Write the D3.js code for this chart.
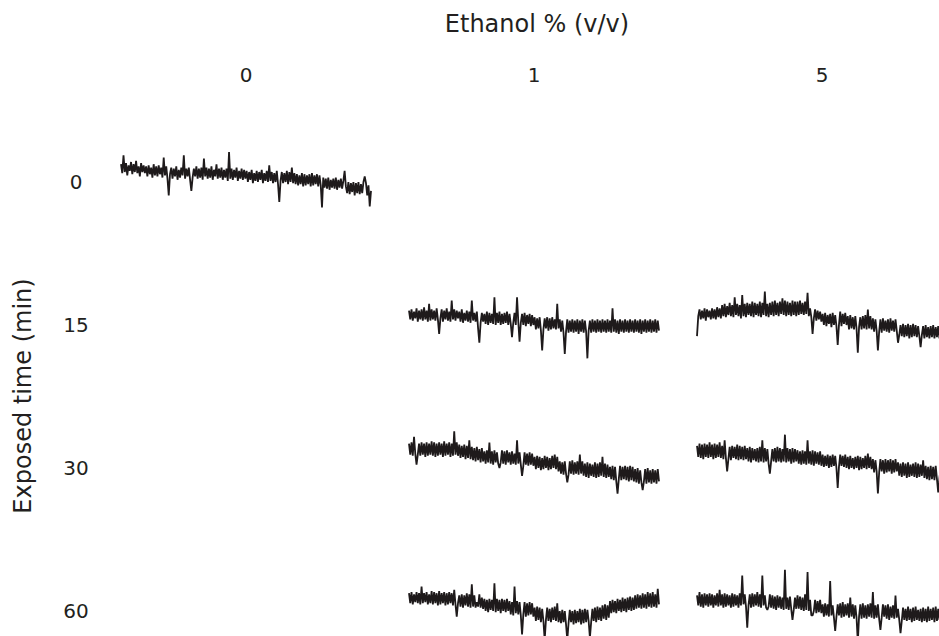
<!DOCTYPE html>
<html><head><meta charset="utf-8">
<script src="https://cdn.jsdelivr.net/npm/d3@7"></script>
<style>body{margin:0;background:#fff}svg{display:block}</style>
</head><body>
<svg id="c" width="939" height="636"></svg>
<script>
// Categories
const ethanolLevels = ["0", "1", "5"];
const exposedTimes = ["0", "15", "30", "60"];

// Trace values (signal amplitude, arbitrary units)
const trace_e0_t0 = [
  16,8,24,9,17,6,15,10,18,7,16,9,19,8,14,5,17,9,15,8,
  14,5,15,7,13,4,16,6,14,5,15,7,13,4,22,6,14,3,-12,7,
  13,3,12,5,14,2,11,4,13,6,24,3,12,5,13,2,-8,4,12,5,
  14,3,12,4,13,2,21,5,13,3,12,4,14,2,11,5,16,3,12,4,
  13,2,11,4,12,1,27,3,12,2,11,4,13,1,10,3,12,2,11,3,
  10,0,9,2,11,-1,8,1,10,0,9,2,11,-1,8,1,10,0,15,1,
  9,-1,8,0,10,-2,-18,1,9,-1,8,0,10,-2,9,0,13,-1,8,-2,
  7,-3,6,-2,8,-4,7,-3,6,-2,7,-4,8,-3,6,-2,7,-4,6,-3,
  -23,4,-5,3,-6,4,-7,2,-5,3,-6,4,-7,2,-5,3,-6,1,10,-4,
  -10,0,-11,-1,-9,0,-12,-1,-10,0,-11,-2,-10,0,5,-1,-12,-3,-22,-8];
const trace_e1_t15 = [
  13,5,14,4,12,6,15,3,13,5,14,4,16,5,13,3,19,4,14,5,
  13,4,15,5,-8,6,14,3,13,5,15,4,12,3,22,5,14,4,13,6,
  12,3,14,2,11,4,13,3,12,2,22,4,11,3,12,-3,-16,2,11,3,
  10,1,12,0,11,2,10,1,25,0,11,2,12,0,10,1,11,2,12,0,
  10,1,-11,2,11,0,25,3,-15,2,10,0,11,-1,9,1,10,-1,9,0,
  7,-4,6,-3,7,-5,-23,-4,6,-3,7,-5,6,-4,7,-3,5,-4,19,-3,
  5,-6,4,-7,-26,-6,5,-7,4,-6,5,-7,4,-6,5,-8,4,-6,5,-7,
  4,-6,-30,-5,4,-7,5,-6,4,-7,5,-6,4,-7,5,-6,4,-7,5,-6,
  4,-7,15,-6,5,-7,4,-8,5,-6,4,-7,5,-6,4,-7,5,-6,4,-7,
  5,-6,4,-7,5,-8,4,-6,5,-7,4,-6,5,-7,4,-6,5,-7,4,-5];
const trace_e5_t15 = [
  -10,8,14,5,13,6,15,4,14,7,13,5,15,6,14,5,16,7,15,6,
  18,8,19,7,17,9,20,8,18,7,25,9,19,8,18,6,27,8,19,7,
  20,9,19,8,21,7,20,9,19,8,21,7,20,9,30,8,19,7,20,9,
  21,8,22,9,20,8,21,10,24,9,22,8,21,9,20,8,22,9,21,8,
  21,9,22,10,20,9,21,10,29,8,15,7,-8,6,14,4,13,5,12,3,
  10,0,11,-1,9,1,10,-2,11,0,9,-1,-18,0,12,-1,10,1,11,0,
  8,-4,9,-3,7,-4,8,-3,-25,-2,7,-4,8,-3,9,-4,14,-3,8,-4,
  6,-6,5,-5,-23,-6,5,-7,6,-5,4,-6,5,-7,6,-5,4,-6,5,-5,
  -16,-9,0,-10,1,-11,0,-10,1,-12,0,-11,1,-10,0,-11,-1,-10,-20,-9,
  -1,-12,0,-11,-2,-12,-1,-11,0,-12,-2,-11,-1,-12,0,-11,-2,-12,-3,-10];
const trace_e1_t30 = [
  22,12,23,11,28,13,3,12,22,11,23,12,22,10,23,11,22,12,24,11,
  23,10,22,11,23,12,22,10,24,11,22,12,23,10,22,11,33,12,23,11,
  21,9,20,10,21,8,20,9,25,8,19,7,18,6,19,7,17,5,18,6,
  15,4,16,5,23,4,15,3,16,5,14,4,0,5,16,4,15,3,16,5,
  14,3,15,4,13,3,25,4,14,3,-7,2,14,3,13,2,14,3,13,2,
  10,-1,11,0,10,-2,9,-1,11,0,10,-2,9,-1,11,0,12,-1,10,-3,
  6,-5,5,-6,6,-5,-13,-6,6,-5,7,-6,5,-5,6,-6,12,-5,6,-7,
  4,-8,5,-9,4,-7,3,-8,5,-9,4,-8,5,-7,10,-8,4,-9,3,-8,
  1,-10,2,-11,1,-12,-23,-10,2,-11,1,-10,2,-11,1,-12,2,-11,1,-12,
  -1,-13,0,-14,-2,-13,-20,-12,-1,-14,0,-13,-2,-14,-1,-13,-2,-14,-1,-12];
const trace_e5_t30 = [
  20,10,22,9,21,8,22,10,21,9,23,10,21,8,22,9,21,10,23,9,
  20,8,25,9,-3,8,19,7,20,9,19,8,21,7,20,8,19,7,20,8,
  18,6,19,5,18,7,17,6,18,5,19,6,25,5,18,6,17,4,-5,6,
  17,6,18,5,19,6,18,5,17,6,30,5,18,6,17,4,18,5,17,6,
  16,4,15,3,16,4,15,3,25,4,15,3,16,2,15,4,14,3,15,2,
  12,1,11,2,12,0,11,1,12,2,11,0,-18,1,12,2,11,1,12,0,
  10,-1,11,0,9,-1,10,0,11,-2,10,-1,9,0,11,-1,13,0,10,-1,
  8,-4,7,-3,-23,-4,8,-3,7,-5,8,-4,7,-3,8,-5,7,-4,8,-3,
  5,-7,4,-8,5,-7,4,-9,5,-8,3,-7,4,-8,5,-9,4,-8,3,-7,
  7,-9,2,-10,1,-11,2,-10,1,-11,2,-10,-22,-9,0,-12,-1,-11,-2,-10];
const trace_e1_t60 = [
  16,7,17,6,15,8,17,7,16,6,22,7,16,8,17,6,15,7,18,6,
  17,7,16,5,18,6,16,7,17,5,16,6,17,7,16,5,19,6,-5,7,
  14,4,15,3,14,5,16,4,15,3,24,4,14,3,8,4,15,3,12,2,
  11,0,10,-1,11,1,10,0,25,-1,11,0,10,-2,11,0,10,-1,11,0,
  9,-3,8,-4,22,-2,9,-3,8,-4,-21,-3,8,-5,7,-4,8,-3,7,-5,
  3,-9,4,-8,3,-10,2,-9,-26,-8,3,-9,2,-10,3,-8,4,-9,7,-10,
  0,-11,1,-10,0,-12,-26,-11,1,-10,0,-12,1,-11,0,-10,2,-12,1,-11,
  2,-10,1,-9,-24,-10,2,-9,3,-10,4,-8,3,-9,5,-7,6,-8,5,-6,
  9,-2,10,-1,9,-2,11,0,10,-1,12,0,11,-1,12,1,13,0,12,1,
  14,2,15,3,14,2,16,3,15,2,17,4,16,3,17,4,15,3,20,6];
const trace_e5_t60 = [
  14,5,17,4,15,3,16,5,15,4,16,5,15,3,14,5,16,4,19,5,
  15,3,16,4,15,5,14,3,16,4,15,5,14,3,16,5,32,6,15,4,
  -15,5,15,3,16,4,15,5,17,4,15,3,32,5,14,3,1,4,15,3,
  14,2,13,1,14,3,13,2,12,1,37,2,12,1,13,2,-8,1,12,2,
  14,2,13,1,12,0,15,1,35,0,10,-4,-4,0,10,-2,9,-1,10,-2,
  6,-5,7,-4,6,-5,27,-4,5,-6,-18,-5,6,-4,7,-6,8,-5,6,-4,
  7,-6,12,-5,6,-7,5,-6,-28,-5,6,-7,7,-6,5,-7,6,-5,7,-6,
  17,-7,5,-6,6,-7,-17,-6,6,-5,5,-7,6,-8,4,-6,5,-7,14,-6,
  2,-8,-20,-9,3,-8,2,-9,4,-8,2,-10,3,-9,4,-8,1,-9,2,-10,
  3,-9,2,-10,4,-9,2,-8,3,-10,4,-9,2,-8,3,-9,1,-8,-1,-7];

const traces = [
  {ethanol: "0", time: "0", values: trace_e0_t0},
  {ethanol: "1", time: "15", values: trace_e1_t15},
  {ethanol: "5", time: "15", values: trace_e5_t15},
  {ethanol: "1", time: "30", values: trace_e1_t30},
  {ethanol: "5", time: "30", values: trace_e5_t30},
  {ethanol: "1", time: "60", values: trace_e1_t60},
  {ethanol: "5", time: "60", values: trace_e5_t60}
];

const svg = d3.select("#c");
const font = "DejaVu Sans, Verdana, sans-serif";
const textColor = "#231f20";

const col = d3.scalePoint().domain(ethanolLevels).range([246, 822]);
const row = d3.scalePoint().domain(exposedTimes).range([182, 611]);
const traceW = 250;
const amp = d3.scaleLinear().domain([-36, 36]).range([40, -40]);

// Titles
svg.append("text").attr("x", 537).attr("y", 32)
  .attr("text-anchor", "middle").attr("font-family", font).attr("font-size", 24)
  .attr("fill", textColor).text("Ethanol % (v/v)");

svg.append("text").attr("transform", "translate(31,396) rotate(-90)")
  .attr("text-anchor", "middle").attr("font-family", font).attr("font-size", 24)
  .attr("fill", textColor).text("Exposed time (min)");

// Column labels
svg.append("g").selectAll("text").data(ethanolLevels).join("text")
  .attr("x", d => col(d)).attr("y", 75).attr("dy", "0.36em")
  .attr("text-anchor", "middle").attr("font-family", font).attr("font-size", 20)
  .attr("fill", textColor).text(d => d);

// Row labels
svg.append("g").selectAll("text").data(exposedTimes).join("text")
  .attr("x", 76).attr("y", d => row(d)).attr("dy", "0.36em")
  .attr("text-anchor", "middle").attr("font-family", font).attr("font-size", 20)
  .attr("fill", textColor).text(d => d);

// Traces
const g = svg.append("g");
traces.forEach(t => {
  const x = d3.scaleLinear().domain([0, t.values.length - 1])
    .range([col(t.ethanol) - traceW / 2, col(t.ethanol) + traceW / 2]);
  const line = d3.line().x((d, i) => x(i)).y(d => row(t.time) + amp(d));
  g.append("path").datum(t.values).attr("d", line)
    .attr("fill", "none").attr("stroke", "#1e1a1b").attr("stroke-width", 1.8)
    .attr("stroke-linejoin", "bevel");
});
</script>
</body></html>
